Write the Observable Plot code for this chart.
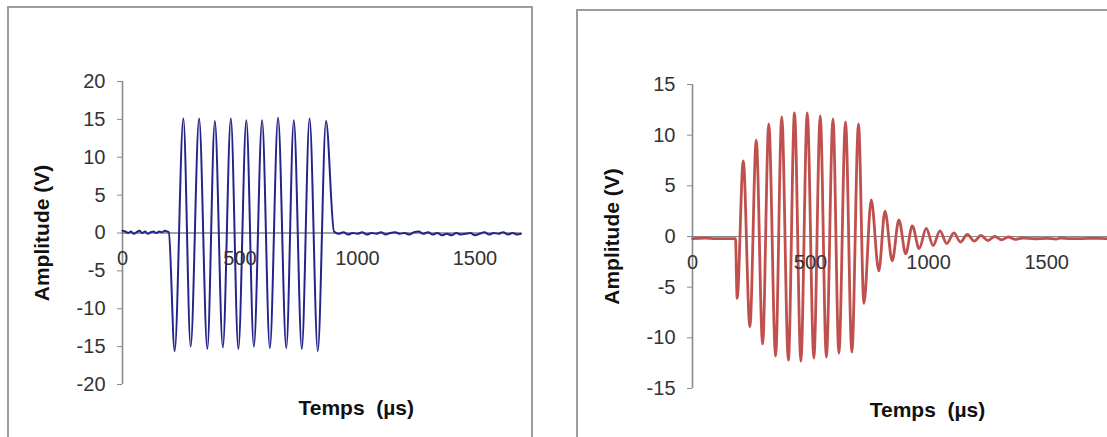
<!DOCTYPE html>
<html><head><meta charset="utf-8">
<script src="https://cdn.jsdelivr.net/npm/d3@7"></script>
<script src="https://cdn.jsdelivr.net/npm/@observablehq/plot@0.6"></script>
<style>
html,body{margin:0;padding:0;background:#fff;overflow:hidden}
body{width:1107px;height:437px;position:relative;font-family:"Liberation Sans",Arial,sans-serif}
.box{position:absolute;border:2px solid #9c9c9c;box-sizing:border-box}
.chart{position:absolute}
.chart svg{overflow:visible;max-width:none !important}
</style></head><body>
<div class="box" style="left:7px;top:6px;width:526px;height:440px"></div>
<div class="box" style="left:576px;top:9px;width:560px;height:440px"></div>
<div id="left" class="chart" style="left:8px;top:7px;width:524px"></div>
<div id="right" class="chart" style="left:577px;top:10px;width:540px"></div>
<script>
// ---- Left chart: emitted signal (time in µs, amplitude in V) ----
const leftTime = [0,12,24,36,48,60,72,84,96,108,120,132,144,156,168,180,190,197,
  222,259,290,326,361,393,427,461,493,527,559,594,627,662,697,729,763,796,831,866,
  900,920,940,960,980,1000,1020,1040,1060,1080,1100,1120,1140,1160,1180,1200,1220,1240,1260,1280,1300,1320,1340,1360,1380,1400,1420,1440,1460,1480,1500,1520,1540,1560,1580,1600,1620,1640,1660,1680,1695];
const leftVolt = [0.3,0.2,0.0,0.2,-0.1,0.1,0.3,0.0,0.2,-0.1,0.1,0.2,0.0,0.2,0.1,0.3,0.2,0.1,
  -15.6,15.1,-15.0,15.1,-15.3,14.8,-15.1,15.1,-15.3,14.9,-15.0,14.9,-15.2,15.2,-15.2,14.9,-15.3,15.1,-15.6,14.8,
  0.2,-0.1,0.1,-0.2,0.0,-0.1,0.1,-0.2,0.0,-0.1,0.1,-0.2,0.0,0.1,-0.1,0.0,-0.2,0.1,0.2,-0.1,0.1,-0.2,0.0,-0.3,-0.1,-0.3,0.0,-0.2,-0.1,0.0,-0.3,-0.1,0.1,-0.2,0.0,-0.1,0.1,-0.2,0.0,-0.2,-0.1];
const leftYTicks = [-20,-15,-10,-5,0,5,10,15,20];
const leftXTicks = [0,500,1000,1500];

// ---- Right chart: received signal ----
const rightTime = [0,50,100,150,182,
  189,215,243,270,297,323,352,378,406,432,459,486,514,541,567,595,620,648,675,703,726,
  757,789,815,846,874,903,931,960,990,1019,1048,1077,1107,1135,1164,1193,1222,1251,1280,1309,1338,1367,
  1400,1450,1500,1540,1560,1600,1650,1700,1750,1800];
const rightVolt = [-0.2,-0.15,-0.2,-0.2,-0.2,
  -6.1,7.45,-8.9,9.5,-10.6,11.1,-11.8,11.8,-12.2,12.2,-12.3,12.2,-12.0,11.9,-11.9,11.6,-11.5,11.3,-11.4,11.1,-6.6,
  3.6,-3.4,2.5,-2.4,1.65,-1.7,1.05,-1.2,0.8,-0.9,0.55,-0.7,0.35,-0.55,0.2,-0.45,0.1,-0.4,0.0,-0.32,-0.05,-0.28,
  -0.15,-0.22,-0.18,-0.25,-0.15,-0.2,-0.2,-0.18,-0.2,-0.2];
const rightYTicks = [-15,-10,-5,0,5,10,15];
const rightXTicks = [0,500,1000,1500];

const xTitle = "Temps  (µs)";
const yTitle = "Amplitude (V)";

function chart({time, volt, xDomain, yDomain, yTicks, xTicks, width, height, margins, color, lineWidth, zeroColor, titleDx, titleDy}) {
  return Plot.plot({
    width, height,
    marginLeft: margins[0], marginRight: margins[1], marginTop: margins[2], marginBottom: margins[3],
    style: {fontFamily: "Liberation Sans, Arial, sans-serif", fontSize: "20px", background: "transparent", color: "#333", maxWidth: "none"},
    x: {domain: xDomain, axis: null},
    y: {domain: yDomain, axis: null},
    marks: [
      Plot.axisY({ticks: yTicks, tickSize: 5, tickPadding: 12, stroke: "#8a8a8a", fill: "#333", label: null, tickFormat: d => String(d), fontSize: 20}),
      Plot.ruleX([0], {y1: yDomain[0], y2: yDomain[1], stroke: "#8a8a8a", strokeWidth: 1.6}),
      Plot.ruleY([0], {x1: xDomain[0], x2: xDomain[1], stroke: zeroColor, strokeWidth: 1}),
      Plot.line(time, {x: time, y: volt, curve: "monotone-x", stroke: color, strokeWidth: lineWidth}),
      Plot.text(xTicks, {x: d => d, y: 0, dy: 26, text: d => String(d), fill: "#333", fontSize: 20}),
      Plot.text([xTitle], {frameAnchor: "bottom", textAnchor: "middle", lineAnchor: "middle", dx: titleDx[0], dy: titleDy, fontWeight: "bold", fontSize: 21, fill: "#111"}),
      Plot.text([yTitle], {frameAnchor: "left", textAnchor: "middle", lineAnchor: "middle", rotate: -90, dx: titleDx[1], fontWeight: "bold", fontSize: 21, fill: "#111"})
    ]
  });
}

document.getElementById("left").append(chart({
  time: leftTime, volt: leftVolt, xDomain: [0, 1700], yDomain: [-20, 20], yTicks: leftYTicks, xTicks: leftXTicks,
  width: 524, height: 430, margins: [114, 10.5, 74, 53], color: "#24248a", lineWidth: 2, zeroColor: "#454545",
  titleDx: [34, -80], titleDy: 24
}));
document.getElementById("right").append(chart({
  time: rightTime, volt: rightVolt, xDomain: [0, 1800], yDomain: [-15, 15], yTicks: rightYTicks, xTicks: rightXTicks,
  width: 540, height: 430, margins: [115, 0, 74, 52], color: "#c0504d", lineWidth: 2.8, zeroColor: "#8a8a8a",
  titleDx: [22.5, -80], titleDy: 22
}));
</script>
</body></html>
